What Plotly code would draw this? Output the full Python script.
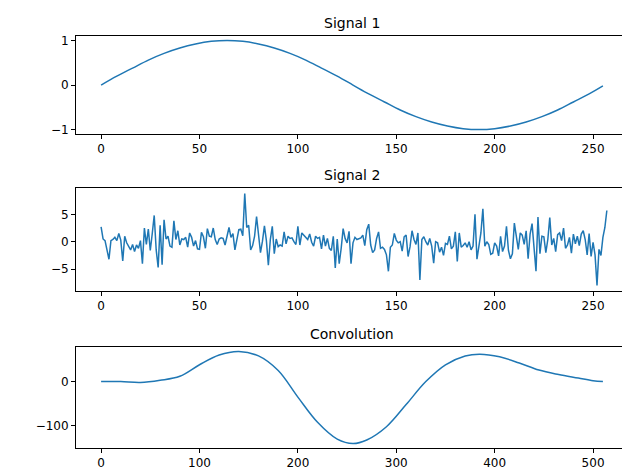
import plotly.graph_objects as go

# Signal 1 sampled every 8 steps
sig1_x = [0, 8, 16, 24, 32, 40, 48, 56, 64, 72, 80, 88, 96, 104, 112, 120, 128,
          136, 144, 152, 160, 168, 176, 184, 192, 200, 208, 216, 224, 232, 240, 248, 255]
sig1_y = [0.0, 0.2, 0.38, 0.56, 0.71, 0.83, 0.92, 0.98, 1.0, 0.98, 0.92, 0.83, 0.71,
          0.56, 0.38, 0.2, 0.0, -0.2, -0.38, -0.56, -0.71, -0.83, -0.92, -0.98, -1.0,
          -0.98, -0.92, -0.83, -0.71, -0.56, -0.38, -0.2, -0.02]

# Signal 2 (noise)
sig2_y = [
    2.7, 0.5, 0.2, -1.8, -3.2, 0.2, 0.4, 0.8, 0.2, 1.5, 0.3, -3.5, 1.0, -0.2, -0.8, -1.5,
    -0.5, -1.8, -0.6, -1.2, 0.2, -4.0, 2.5, -0.5, 2.3, -1.6, 1.5, 4.8, -1.5, -4.7,
    3.0, -4.2, 4.0, 0.5, 1.0, -0.8, -1.0, 3.8, 0.4, 2.0, -0.6, 0.5, 0.4, 0.8, -1.0,
    1.6, 0.8, -0.8, 0.2, -1.3, -1.4, 1.7, 0.9, -1.2, 2.4, 1.0, 0.9, 2.5, 0.4, -0.5,
    0.5, 0.7, 0.6, -0.6, 1.0, 2.6, 0.8, 1.5, -1.5, 0.6, 2.2, 2.3, 1.1, 8.8, 2.6,
    3.0, -1.5, -0.7, 1.0, 4.6, 1.0, -2.0, 0.1, 2.9, 0.2, -4.3, 0.4, 2.8, -2.2, 0.5,
    -0.9, -0.6, -0.8, 1.8, -0.4, 1.0, 0.6, 0.7, 0.0, -0.5, 2.8, -0.6, 1.6, 1.2, 0.8,
    0.4, 1.4, -0.1, -0.8, 1.0, 0.6, 0.8, -1.3, 1.2, -0.8, 0.6, -1.2, -1.6, 1.0, -4.8,
    0.5, -4.0, -1.2, 2.4, 0.6, -0.2, 1.9, -4.0, -0.2, 0.8, 0.4, 0.6, 0.7, 1.2,
    -0.7, 2.2, 3.2, -0.6, -2.0, -1.5, 0.6, 1.8, -1.2, -1.0, -1.4, -2.4, -5.4, -1.0,
    -0.6, 1.5, 0.3, -0.2, 0.0, -1.7, 0.9, 1.2, -2.7, -0.9, 2.0, 0.4, -0.5, 1.6,
    -7.0, 0.4, 0.9, 0.0, -0.6, 0.6, -0.8, -3.9, 0.0, -0.2, -1.9, -1.0, -2.5,
    -0.3, -0.5, 1.0, -1.3, -0.8, 1.8, -3.6, 1.6, -1.0, -0.7, -0.2, -1.0, 0.0, -1.5,
    -0.8, 5.0, -3.2, -0.4, 1.6, 6.0, -0.8, 0.0, -0.5, -2.3, -2.1, -0.2, -0.8, -2.6,
    1.0, -1.8, -0.8, 2.8, -1.6, -3.1, -2.2, 3.4, 1.3, -1.4, 1.6, 1.2, -0.5, 2.0,
    -3.1, 1.4, 3.3, -0.6, -5.4, 4.5, -2.2, 1.0, 0.9, -2.0, 0.4, 4.4, -0.6,
    0.6, -1.8, 1.3, 1.6, 0.2, 2.5, -1.2, -0.6, 0.8, -2.1, 1.4, -0.4, 1.0, -0.7,
    1.4, 2.0, 0.4, -2.4, 1.5, -2.7, -0.1, -2.4, -8.0, -1.4, -2.5, 0.8, 2.6, 5.7,
]
sig2_x = list(range(len(sig2_y)))

# Convolution of the two signals
conv_x = [0, 20, 40, 60, 80, 100, 120, 140, 160, 180, 200, 220, 240, 256, 270, 290,
          310, 330, 350, 370, 385, 405, 425, 445, 465, 485, 500, 510]
conv_y = [0, 0, -2, 3, 12, 38, 60, 68, 58, 25, -35, -92, -130, -140, -132, -102,
          -52, 0, 38, 58, 62, 56, 42, 26, 16, 8, 2, 0]

fig = go.Figure()
line = dict(color="#1f77b4", width=1.5)
fig.add_trace(go.Scatter(x=sig1_x, y=sig1_y, mode="lines", line=dict(line, shape="spline"),
                         xaxis="x", yaxis="y"))
fig.add_trace(go.Scatter(x=sig2_x, y=sig2_y, mode="lines", line=line,
                         xaxis="x2", yaxis="y2"))
fig.add_trace(go.Scatter(x=conv_x, y=conv_y, mode="lines", line=dict(line, shape="spline"),
                         xaxis="x3", yaxis="y3"))

ax = dict(showgrid=False, zeroline=False, showline=True, mirror=True, linecolor="black",
          ticks="outside", ticklen=4, tickcolor="black", automargin=False,
          tickfont=dict(size=12))
fig.update_layout(
    width=630, height=470, showlegend=False,
    paper_bgcolor="white", plot_bgcolor="white",
    margin=dict(l=68, r=10, t=28, b=30),
    font=dict(family="DejaVu Sans", size=12, color="black"),
    xaxis=dict(ax, domain=[0, 1], range=[-12.75, 267.75], tickvals=[0, 50, 100, 150, 200, 250], anchor="y"),
    yaxis=dict(ax, domain=[0.762, 1], range=[-1.1, 1.1], tickvals=[-1, 0, 1], anchor="x"),
    xaxis2=dict(ax, domain=[0, 1], range=[-12.75, 267.75], tickvals=[0, 50, 100, 150, 200, 250], anchor="y2"),
    yaxis2=dict(ax, domain=[0.381, 0.631], range=[-9.0, 9.8], tickvals=[-5, 0, 5], anchor="x2"),
    xaxis3=dict(ax, domain=[0, 1], range=[-25.5, 535.5], tickvals=[0, 100, 200, 300, 400, 500], anchor="y3"),
    yaxis3=dict(ax, domain=[0, 0.245], range=[-150, 78], tickvals=[-100, 0], anchor="x3"),
)
for title, y in [("Signal 1", 1.0), ("Signal 2", 0.631), ("Convolution", 0.245)]:
    fig.add_annotation(text=title, x=0.5, y=y, xref="paper", yref="paper",
                       xanchor="center", yanchor="bottom", yshift=3,
                       showarrow=False, font=dict(size=14))

fig.write_html("out.html")
